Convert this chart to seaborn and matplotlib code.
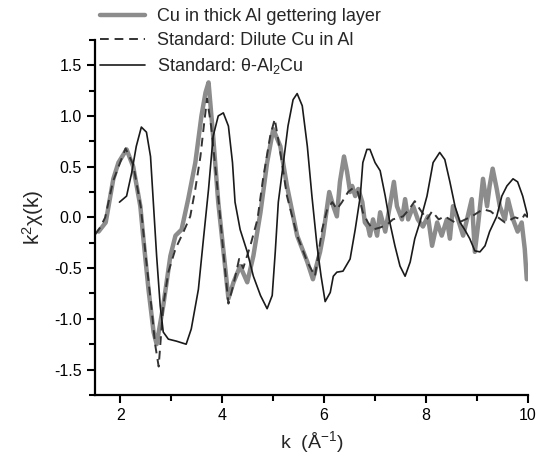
import pandas as pd
import matplotlib
matplotlib.use("Agg")
import matplotlib.pyplot as plt
import seaborn as sns
from matplotlib.ticker import MultipleLocator

# Estilo geral
sns.set_theme(style="ticks")
plt.rcParams['font.family'] = ['Liberation Sans', 'DejaVu Sans']
plt.rcParams['mathtext.fontset'] = 'custom'
plt.rcParams['mathtext.rm'] = 'Liberation Sans'
plt.rcParams['mathtext.it'] = 'Liberation Sans'

# Cu in thick Al gettering layer (curva cinza, ruidosa)
k_sample = [1.57, 1.71, 1.86, 1.96, 2.12, 2.25, 2.39, 2.45, 2.55, 2.65,
            2.71, 2.84, 2.98, 3.08, 3.2, 3.33, 3.47, 3.59, 3.67, 3.73,
            3.82, 3.92, 4.06, 4.12, 4.22, 4.35, 4.49, 4.61, 4.75, 4.88,
            5.0, 5.14, 5.27, 5.47, 5.67, 5.78, 5.92, 5.98, 6.06, 6.1,
            6.18, 6.25, 6.31, 6.39, 6.45, 6.51, 6.55, 6.61, 6.67, 6.75,
            6.8, 6.86, 6.9, 6.96, 7.04, 7.1, 7.2, 7.29, 7.37, 7.43,
            7.53, 7.59, 7.65, 7.75, 7.84, 7.94, 8.04, 8.12, 8.22, 8.31,
            8.41, 8.47, 8.53, 8.63, 8.73, 8.82, 8.9, 8.96, 9.02, 9.12,
            9.2, 9.25, 9.31, 9.39, 9.45, 9.55, 9.61, 9.71, 9.8, 9.88,
            9.94, 9.98]
chi_sample = [-0.14, -0.05, 0.38, 0.54, 0.67, 0.50, 0.11, -0.21, -0.71, -1.13,
              -1.25, -0.87, -0.38, -0.18, -0.12, 0.18, 0.54, 1.0, 1.23, 1.33,
              0.80, 0.15, -0.51, -0.80, -0.64, -0.48, -0.64, -0.38, 0.05, 0.54,
              0.87, 0.70, 0.31, -0.18, -0.44, -0.61, -0.34, -0.18, 0.11, 0.25,
              0.11, 0.01, 0.35, 0.6, 0.45, 0.25, 0.31, 0.21, 0.28, 0.15,
              -0.05, -0.09, -0.18, -0.02, -0.18, 0.05, -0.14, 0.11, 0.35, 0.11,
              -0.02, 0.18, -0.02, 0.11, -0.02, -0.09, 0.01, -0.28, -0.05, -0.18,
              -0.02, -0.21, 0.11, -0.02, -0.18, 0.01, 0.18, -0.34, -0.09, 0.38,
              0.11, 0.31, 0.48, 0.28, 0.11, -0.02, 0.18, -0.02, -0.14, -0.05,
              -0.31, -0.61]

# Standard: Dilute Cu in Al (tracejada)
k_dilute = [1.5, 1.6, 1.7, 1.85, 2.0, 2.1, 2.25, 2.4, 2.5, 2.6,
            2.68, 2.75, 2.84, 2.94, 3.08, 3.24, 3.37, 3.47, 3.57, 3.63,
            3.7, 3.78, 3.9, 4.02, 4.12, 4.22, 4.33, 4.41, 4.55, 4.69,
            4.8, 4.94, 5.03, 5.14, 5.27, 5.47, 5.67, 5.82, 5.88, 5.96,
            6.06, 6.16, 6.25, 6.35, 6.47, 6.57, 6.66, 6.76, 6.86, 6.96,
            7.1, 7.24, 7.35, 7.55, 7.67, 7.78, 7.88, 8.02, 8.12, 8.25,
            8.37, 8.57, 8.69, 8.9, 9.12, 9.27, 9.39, 9.55, 9.75, 9.88,
            9.94, 10.0]
chi_dilute = [-0.17, -0.1, 0.0, 0.35, 0.55, 0.68, 0.52, 0.1, -0.4, -0.85,
              -1.25, -1.47, -0.87, -0.54, -0.31, -0.14, 0.01, 0.28, 0.6, 0.87,
              1.17, 0.9, 0.31, -0.34, -0.85, -0.66, -0.41, -0.5, -0.28, -0.02,
              0.38, 0.8, 0.97, 0.64, 0.21, -0.18, -0.44, -0.58, -0.38, -0.12,
              0.08, 0.15, 0.08, 0.15, 0.25, 0.29, 0.25, 0.05, -0.05, -0.12,
              -0.1, -0.07, -0.02, 0.01, 0.08, 0.16, 0.08, -0.02, 0.06, -0.02,
              0.01, -0.05, -0.04, 0.01, 0.08, 0.06, 0.01, -0.05, 0.0, -0.02,
              0.03, 0.0]

# Standard: theta-Al2Cu (linha preta fina)
k_al2cu = [1.98, 2.12, 2.22, 2.31, 2.41, 2.51, 2.59, 2.65, 2.71, 2.78,
           2.84, 2.94, 3.1, 3.29, 3.39, 3.53, 3.63, 3.73, 3.82, 3.92,
           4.02, 4.12, 4.2, 4.25, 4.35, 4.49, 4.61, 4.75, 4.88, 4.98,
           5.04, 5.1, 5.2, 5.29, 5.39, 5.47, 5.57, 5.67, 5.76, 5.86,
           5.94, 6.02, 6.12, 6.18, 6.25, 6.37, 6.51, 6.61, 6.71, 6.76,
           6.84, 6.9, 7.0, 7.1, 7.2, 7.29, 7.39, 7.49, 7.59, 7.69,
           7.78, 7.88, 8.02, 8.14, 8.27, 8.37, 8.47, 8.57, 8.67, 8.76,
           8.86, 8.96, 9.06, 9.16, 9.25, 9.39, 9.49, 9.59, 9.71, 9.8,
           9.9, 10.0]
chi_al2cu = [0.15, 0.21, 0.44, 0.7, 0.89, 0.84, 0.6, 0.11, -0.38, -0.87,
             -1.13, -1.2, -1.22, -1.25, -1.1, -0.71, -0.21, 0.28, 0.8, 1.0,
             1.03, 0.9, 0.54, 0.15, -0.12, -0.34, -0.58, -0.77, -0.9, -0.77,
             -0.34, 0.15, 0.54, 0.9, 1.16, 1.22, 1.1, 0.7, 0.21, -0.28,
             -0.58, -0.83, -0.74, -0.58, -0.54, -0.53, -0.41, -0.12, 0.21, 0.54,
             0.67, 0.67, 0.54, 0.46, 0.21, -0.05, -0.28, -0.48, -0.58, -0.44,
             -0.21, -0.05, 0.21, 0.54, 0.64, 0.57, 0.35, 0.11, -0.05, -0.12,
             -0.21, -0.33, -0.34, -0.28, -0.14, 0.01, 0.21, 0.31, 0.38, 0.35,
             0.21, 0.01]

labels = ['Cu in thick Al gettering layer',
          'Standard: Dilute Cu in Al',
          'Standard: \u03b8-Al$_2$Cu']

df_sample = pd.DataFrame({'k': k_sample, 'chi': chi_sample})
df_dilute = pd.DataFrame({'k': k_dilute, 'chi': chi_dilute})
df_al2cu = pd.DataFrame({'k': k_al2cu, 'chi': chi_al2cu})

fig = plt.figure(figsize=(5.43, 4.63), dpi=100)
ax = fig.add_axes([0.175, 0.147, 0.797, 0.767])

sns.lineplot(data=df_sample, x='k', y='chi', ax=ax, color='#8c8c8c',
             linewidth=3.2, label=labels[0], estimator=None)
sns.lineplot(data=df_dilute, x='k', y='chi', ax=ax, color='#333333',
             linewidth=1.4, label=labels[1], estimator=None)
ax.lines[-1].set_dashes([4.5, 3])
sns.lineplot(data=df_al2cu, x='k', y='chi', ax=ax, color='#1a1a1a',
             linewidth=1.2, label=labels[2], estimator=None)

ax.set_xlim(1.5, 10)
ax.set_ylim(-1.75, 1.75)
ax.xaxis.set_major_locator(MultipleLocator(2))
ax.xaxis.set_minor_locator(MultipleLocator(1))
ax.yaxis.set_major_locator(MultipleLocator(0.5))
ax.yaxis.set_minor_locator(MultipleLocator(0.25))
ax.yaxis.set_major_formatter(plt.FuncFormatter(lambda v, p: f'{v:.1f}'))

ax.tick_params(which='major', direction='out', length=6, width=1.5,
               labelsize=11.5, colors='black')
ax.tick_params(which='minor', direction='out', length=4, width=1.5,
               colors='black')
for side in ['left', 'bottom']:
    ax.spines[side].set_linewidth(1.6)
    ax.spines[side].set_color('black')
sns.despine(ax=ax)

ax.set_xlabel('k  (\u00c5$^{-1}$)', fontsize=14, labelpad=4)
ax.set_ylabel('k$^2$\u03c7(k)', fontsize=15, labelpad=6)

ax.legend(loc='upper left', bbox_to_anchor=(0.184, 0.982),
          bbox_transform=fig.transFigure, frameon=False, fontsize=13,
          handlelength=2.5, handletextpad=0.65, labelspacing=0.38,
          borderaxespad=0, borderpad=0)

fig.savefig('out.png', dpi=100)
